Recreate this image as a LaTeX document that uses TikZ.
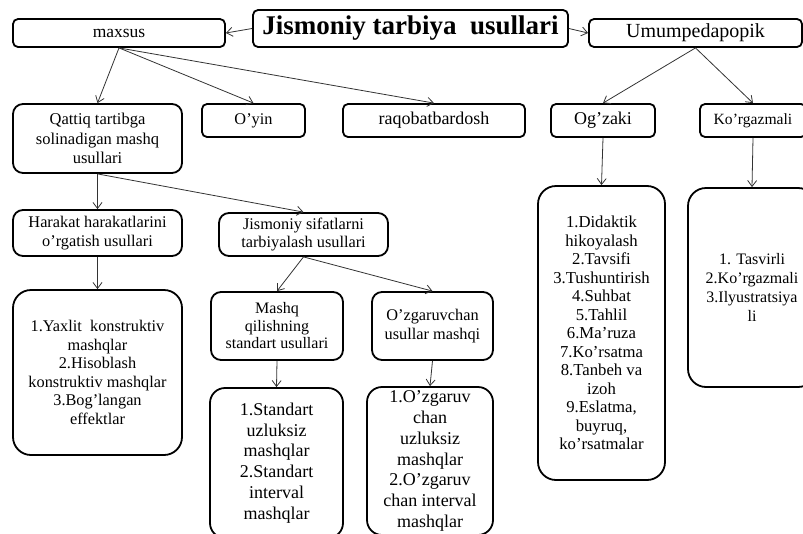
\documentclass[tikz,border=0pt]{standalone}
\usepackage{fontspec}
\setmainfont{Liberation Serif}
\usetikzlibrary{arrows.meta}
\begin{document}
\begin{tikzpicture}[x=1pt,y=-1pt,
  box/.style={draw, line width=1.8pt, rounded corners=5pt, align=center, inner sep=0pt,
    font=\fontsize{16.3}{18.6}\selectfont},
  midbox/.style={box, rounded corners=10pt},
  bigbox/.style={box, rounded corners=18pt},
  link/.style={draw=black!80, line width=0.8pt, -{Straight Barb[length=6pt,width=9pt]}}]
  \useasboundingbox (0,0) rectangle (803,533);
  % top row
  \node[box, minimum width=315pt, minimum height=37pt, font=\fontsize{27}{30}\selectfont\bfseries] (title) at (410.5,28.5) {Jismoniy tarbiya~ usullari};
  \node[box, minimum width=212pt, minimum height=28pt, font=\fontsize{17.5}{20}\selectfont] (maxsus) at (119,33) {maxsus};
  \node[box, minimum width=213pt, minimum height=28pt, font=\fontsize{20}{22}\selectfont] (umum) at (695.5,33) {Umumpedapopik};
  % second row
  \node[midbox, minimum width=169pt, minimum height=69pt, font=\fontsize{16.5}{19.5}\selectfont] (qattiq) at (97.5,138.5) {Qattiq tartibga\\solinadigan mashq\\usullari};
  \node[box, minimum width=103pt, minimum height=33pt] (oyin) at (253.5,120.5) {O'yin};
  \node[box, minimum width=182pt, minimum height=33pt, font=\fontsize{18}{20}\selectfont] (raqobat) at (434,120.5) {raqobatbardosh};
  \node[box, minimum width=104pt, minimum height=33pt, font=\fontsize{18}{20}\selectfont] (ogzaki) at (603,120.5) {Og'zaki};
  \node[box, minimum width=106pt, minimum height=33pt, font=\fontsize{15.6}{18}\selectfont] (korgaz) at (753,120.5) {Ko'rgazmali};
  % third row
  \node[midbox, minimum width=169pt, minimum height=46pt] (harakat) at (97.5,233) {Harakat harakatlarini\\o'rgatish usullari};
  \node[midbox, minimum width=169pt, minimum height=43pt] (sifat) at (303.5,234.5) {Jismoniy sifatlarni\\tarbiyalash usullari};
  \node[midbox, minimum width=132pt, minimum height=68pt, font=\fontsize{16}{17.5}\selectfont] (mashq) at (277,326) {Mashq\\qilishning\\standart usullari};
  \node[midbox, minimum width=121pt, minimum height=68pt] (ozgar) at (432.5,326) {O'zgaruvchan\\usullar mashqi};
  % lists
  \node[bigbox, minimum width=169pt, minimum height=165pt] (yaxlit) at (97.5,372.5) {1.Yaxlit~ konstruktiv\\mashqlar\\2.Hisoblash\\konstruktiv mashqlar\\3.Bog'langan\\effektlar};
  \node[bigbox, rounded corners=15pt, minimum width=133pt, minimum height=150pt, font=\fontsize{18}{20.8}\selectfont] (standart) at (276.5,463) {1.Standart\\uzluksiz\\mashqlar\\2.Standart\\interval\\mashqlar};
  \node[bigbox, rounded corners=15pt, minimum width=126pt, minimum height=148pt, font=\fontsize{18}{20.7}\selectfont] (ozgaruv) at (430,461) {1.O'zgaruv\\chan\\uzluksiz\\mashqlar\\2.O'zgaruv\\chan interval\\mashqlar};
  \node[bigbox, minimum width=127pt, minimum height=294pt, font=\fontsize{16.7}{18.5}\selectfont] (didaktik) at (601.5,333) {1.Didaktik\\hikoyalash\\2.Tavsifi\\3.Tushuntirish\\4.Suhbat\\5.Tahlil\\6.Ma'ruza\\7.Ko'rsatma\\8.Tanbeh va\\izoh\\9.Eslatma,\\buyruq,\\ko'rsatmalar};
  \node[bigbox, minimum width=128pt, minimum height=199pt, font=\fontsize{16}{19}\selectfont] (tasvir) at (752,287.5) {1. Tasvirli\\2.Ko'rgazmali\\3.Ilyustratsiya\\li};
  % connectors
  \draw[link] (title.west) -- (maxsus.east);
  \draw[link] (title.east) -- (umum.west);
  \draw[link] (maxsus.south) -- (qattiq.north);
  \draw[link] (maxsus.south) -- (oyin.north);
  \draw[link] (maxsus.south) -- (raqobat.north);
  \draw[link] (umum.south) -- (ogzaki.north);
  \draw[link] (umum.south) -- (korgaz.north);
  \draw[link] (ogzaki.south) -- (didaktik.north);
  \draw[link] (korgaz.south) -- (tasvir.north);
  \draw[link] (qattiq.south) -- (harakat.north);
  \draw[link] (qattiq.south) -- (sifat.north);
  \draw[link] (harakat.south) -- (yaxlit.north);
  \draw[link] (sifat.south) -- (mashq.north);
  \draw[link] (sifat.south) -- (ozgar.north);
  \draw[link] (mashq.south) -- (standart.north);
  \draw[link] (ozgar.south) -- (ozgaruv.north);
\end{tikzpicture}
\end{document}
